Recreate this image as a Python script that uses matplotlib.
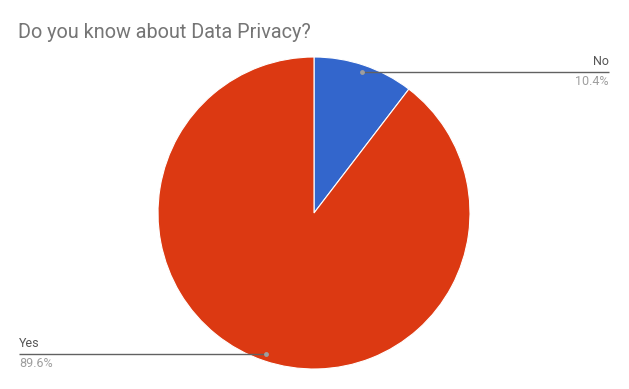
import numpy as np
import matplotlib
matplotlib.use('Agg')
from matplotlib import pyplot as plt

labels = ['No', 'Yes']
values = [10.4, 89.6]
colors = ['#3366cc', '#dc3912']

W, H = 629, 389
fig = plt.figure(figsize=(W / 100, H / 100), dpi=100)
ax = fig.add_axes([0, 0, 1, 1])
ax.set_xlim(0, W)
ax.set_ylim(0, H)
ax.set_aspect('equal')
ax.axis('off')

cx, cy, r = 314, H - 213, 156
ax.pie(values, colors=colors, startangle=90, counterclock=False,
       center=(cx, cy), radius=r, wedgeprops={'linewidth': 0.8, 'edgecolor': 'white'})
ax.set_xlim(0, W)
ax.set_ylim(0, H)

fig.text(18 / W, 1 - 38 / H, 'Do you know about Data Privacy?', fontsize=14.3,
         family='Roboto', color='#757575', va='baseline', ha='left')

# leader lines
total = sum(values)
start = 0
for lab, v in zip(labels, values):
    mid = start + v / total * 360 / 2
    start += v / total * 360
    a = np.radians(mid)
    px = cx + 0.955 * r * np.sin(a)
    py = cy + 0.955 * r * np.cos(a)
    if np.sin(a) >= 0:
        ex, ha = 609, 'right'
    else:
        ex, ha = 19, 'left'
    ax.plot([px, ex], [py, py], color='#616161', lw=1, solid_capstyle='butt')
    ax.plot(px, py, 'o', color='#9e9e9e', ms=3.5, mec='none')
    ax.text(ex, py + 4, lab, ha=ha, va='bottom', fontsize=9, family='Roboto', color='#555555')
    ax.text(ex, py - 3, '%.1f%%' % v, ha=ha, va='top', fontsize=9, family='Roboto', color='#9e9e9e')

plt.savefig('out.png', dpi=100)
plt.close()
